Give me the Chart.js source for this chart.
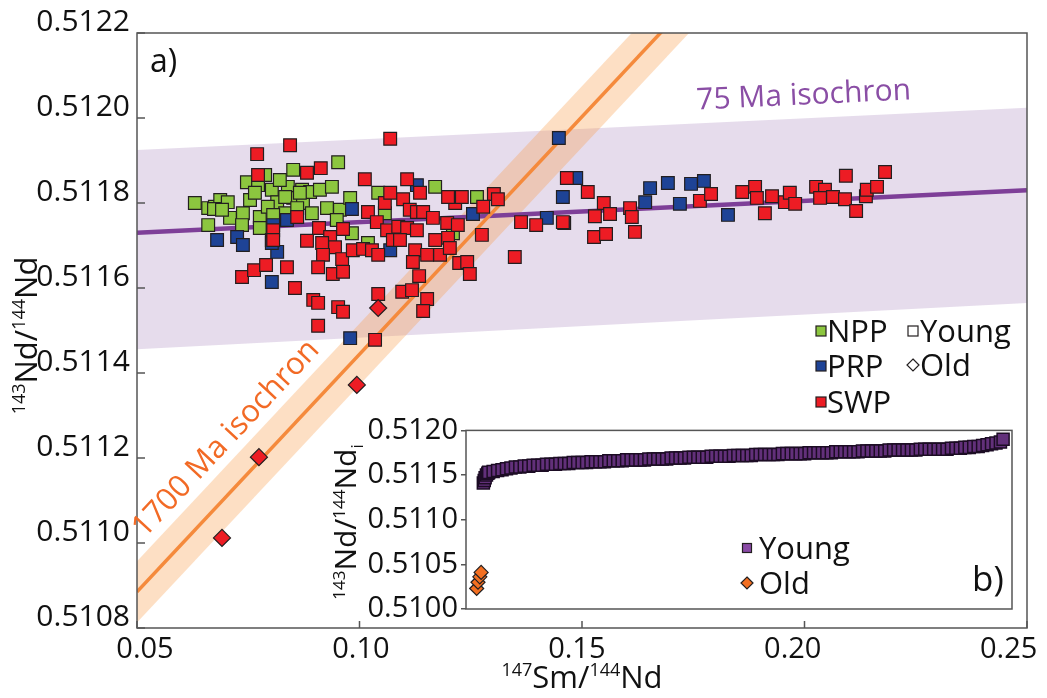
<!DOCTYPE html>
<html>
<head>
<meta charset="utf-8">
<script src="https://cdn.jsdelivr.net/npm/chart.js@4.4.0/dist/chart.umd.min.js"></script>
<style>
  body { margin: 0; background: #fff; }
  #wrap { position: relative; width: 1047px; height: 698px; }
  #mainChart { position: absolute; left: 0; top: 0; }
  #insetChart { position: absolute; left: 330px; top: 410px; }
</style>
</head>
<body>
<div id="wrap">
  <canvas id="mainChart" width="1047" height="698"></canvas>
  <canvas id="insetChart" width="700" height="230"></canvas>
</div>
<script>
// ---- axis ticks ----
const xTicks = [0.05, 0.10, 0.15, 0.20, 0.25];
const yTicks = [0.5108, 0.5110, 0.5112, 0.5114, 0.5116, 0.5118, 0.5120, 0.5122];
const insetYTicks = [0.5100, 0.5105, 0.5110, 0.5115, 0.5120];

// ---- isochrons and their error envelopes, [147Sm/144Nd, 143Nd/144Nd] ----
const isochron75 = [[0.05, 0.51173], [0.25, 0.51183]];
const band75Upper = [[0.05, 0.511925], [0.25, 0.512024]];
const band75Lower = [[0.05, 0.511456], [0.25, 0.511565]];
const isochron1700 = [[0.05, 0.510885], [0.25, 0.513121]];
const band1700Upper = [[0.05, 0.510957], [0.25, 0.513193]];
const band1700Lower = [[0.05, 0.510813], [0.25, 0.513049]];

// ---- samples ----
const nppPoints = [
  [0.0630, 0.511800], [0.0660, 0.511788], [0.0675, 0.511791], [0.0687, 0.511807],
  [0.0660, 0.511748], [0.0709, 0.511765], [0.0738, 0.511776], [0.0736, 0.511748],
  [0.0747, 0.511849], [0.0754, 0.511807], [0.0772, 0.511842], [0.0788, 0.511866],
  [0.0776, 0.511767], [0.0803, 0.511831], [0.0815, 0.511802], [0.0839, 0.511838],
  [0.0851, 0.511878], [0.0851, 0.511812], [0.0873, 0.511800], [0.0871, 0.511831],
  [0.0889, 0.511826], [0.0911, 0.511831], [0.0938, 0.511838], [0.0952, 0.511896],
  [0.0927, 0.511788], [0.0956, 0.511784], [0.0949, 0.511760], [0.0893, 0.511776],
  [0.0833, 0.511776], [0.0794, 0.511791], [0.0833, 0.511814], [0.0704, 0.511802],
  [0.0673, 0.511786], [0.0776, 0.511741], [0.0866, 0.511824], [0.0860, 0.511788],
  [0.0979, 0.511812], [0.0983, 0.511729], [0.1019, 0.511706], [0.1042, 0.511824],
  [0.1057, 0.511776], [0.1170, 0.511838], [0.1264, 0.511814], [0.1210, 0.511729],
  [0.0806, 0.511772], [0.0691, 0.511784], [0.0765, 0.511824], [0.0821, 0.511854]
];
const prpPoints = [
  [0.0680, 0.511713], [0.0725, 0.511720], [0.0738, 0.511701], [0.0803, 0.511713],
  [0.0815, 0.511685], [0.0837, 0.511760], [0.0806, 0.511748], [0.0803, 0.511614],
  [0.0983, 0.511786], [0.1129, 0.511842], [0.1069, 0.511689], [0.1255, 0.511774],
  [0.0979, 0.511482], [0.1448, 0.511953], [0.1487, 0.511859], [0.1457, 0.511814],
  [0.1421, 0.511765], [0.1460, 0.511753], [0.1653, 0.511835], [0.1642, 0.511802],
  [0.1693, 0.511847], [0.1720, 0.511798], [0.1745, 0.511845], [0.1774, 0.511852],
  [0.1828, 0.511772], [0.0803, 0.511706]
];
const swpPoints = [
  [0.0770, 0.511915], [0.0844, 0.511936], [0.0772, 0.511866], [0.0882, 0.511871],
  [0.0913, 0.511882], [0.0860, 0.511767], [0.0806, 0.511736], [0.0806, 0.511713],
  [0.0736, 0.511626], [0.0763, 0.511642], [0.0790, 0.511654], [0.0837, 0.511649],
  [0.0855, 0.511600], [0.0882, 0.511711], [0.0909, 0.511741], [0.0934, 0.511720],
  [0.0963, 0.511739], [0.0916, 0.511706], [0.0945, 0.511696], [0.0918, 0.511678],
  [0.0907, 0.511649], [0.0940, 0.511633], [0.0963, 0.511638], [0.0896, 0.511572],
  [0.0907, 0.511565], [0.0952, 0.511555], [0.0963, 0.511544], [0.0907, 0.511511],
  [0.0961, 0.511668], [0.0985, 0.511689], [0.1008, 0.511692], [0.1028, 0.511689],
  [0.1042, 0.511678], [0.1012, 0.511856], [0.1019, 0.511779], [0.1057, 0.511800],
  [0.1069, 0.511824], [0.1107, 0.511856], [0.1098, 0.511809], [0.1136, 0.511824],
  [0.1039, 0.511755], [0.1062, 0.511736], [0.1087, 0.511744], [0.1107, 0.511741],
  [0.1129, 0.511736], [0.1075, 0.511713], [0.1091, 0.511713], [0.1113, 0.511784],
  [0.1129, 0.511779], [0.1143, 0.511779], [0.1165, 0.511765], [0.1197, 0.511753],
  [0.1215, 0.511800], [0.1199, 0.511814], [0.1170, 0.511713], [0.1199, 0.511718],
  [0.1221, 0.511748], [0.1125, 0.511689], [0.1152, 0.511678], [0.1181, 0.511678],
  [0.1120, 0.511661], [0.1203, 0.511694], [0.1224, 0.511659], [0.1242, 0.511661],
  [0.1134, 0.511628], [0.1248, 0.511633], [0.1042, 0.511586], [0.1096, 0.511591],
  [0.1118, 0.511595], [0.1152, 0.511574], [0.1143, 0.511546], [0.1035, 0.511478],
  [0.1275, 0.511725], [0.1302, 0.511821], [0.1311, 0.511809], [0.1278, 0.511791],
  [0.1230, 0.511814], [0.1363, 0.511755], [0.1397, 0.511748], [0.1349, 0.511673],
  [0.1466, 0.511859], [0.1513, 0.511826], [0.1549, 0.511800], [0.1529, 0.511769],
  [0.1563, 0.511774], [0.1457, 0.511755], [0.1527, 0.511720], [0.1554, 0.511727],
  [0.1608, 0.511788], [0.1612, 0.511767], [0.1619, 0.511732], [0.1765, 0.511805],
  [0.1790, 0.511821], [0.1860, 0.511826], [0.1889, 0.511838], [0.1893, 0.511812],
  [0.1911, 0.511776], [0.1927, 0.511816], [0.1956, 0.511802], [0.1967, 0.511824],
  [0.1979, 0.511798], [0.2026, 0.511838], [0.2046, 0.511831], [0.2035, 0.511812],
  [0.2064, 0.511814], [0.2091, 0.511809], [0.2093, 0.511864], [0.2116, 0.511781],
  [0.2138, 0.511816], [0.2140, 0.511831], [0.2163, 0.511838], [0.2181, 0.511873],
  [0.1069, 0.511951]
];
const swpOldPoints = [
  [0.0691, 0.511012], [0.0774, 0.511202], [0.0994, 0.511372], [0.1042, 0.511553]
];

// ---- inset b): initial ratios ----
const youngX = [
  0.1278, 0.1280, 0.1282, 0.1285, 0.1288,
  0.129, 0.130, 0.131, 0.132, 0.133, 0.134, 0.135, 0.136, 0.137, 0.138,
  0.139, 0.140, 0.141, 0.142, 0.143, 0.144, 0.145, 0.146, 0.147, 0.148,
  0.149, 0.150, 0.151, 0.152, 0.153, 0.154, 0.155, 0.156, 0.157, 0.158,
  0.159, 0.160, 0.161, 0.162, 0.163, 0.164, 0.165, 0.166, 0.167, 0.168,
  0.169, 0.170, 0.171, 0.172, 0.173, 0.174, 0.175, 0.176, 0.177, 0.178,
  0.179, 0.180, 0.181, 0.182, 0.183, 0.184, 0.185, 0.186, 0.187, 0.188,
  0.189, 0.190, 0.191, 0.192, 0.193, 0.194, 0.195, 0.196, 0.197, 0.198,
  0.199, 0.200, 0.201, 0.202, 0.203, 0.204, 0.205, 0.206, 0.207, 0.208,
  0.209, 0.210, 0.211, 0.212, 0.213, 0.214, 0.215, 0.216, 0.217, 0.218,
  0.219, 0.220, 0.221, 0.222, 0.223, 0.224, 0.225, 0.226, 0.227, 0.228,
  0.229, 0.230, 0.231, 0.232, 0.233, 0.234, 0.235, 0.236, 0.237, 0.238,
  0.239, 0.240, 0.241, 0.242, 0.243, 0.244, 0.2446
];
const youngY = [
  0.51141, 0.51144, 0.51147, 0.51150, 0.51152,
  0.51153, 0.51154, 0.51155, 0.51156, 0.51157, 0.51158, 0.51159, 0.51159, 0.51160, 0.51160,
  0.51161, 0.51161, 0.51161, 0.51162, 0.51162, 0.51162, 0.51163, 0.51163, 0.51163, 0.51164,
  0.51164, 0.51164, 0.51164, 0.51165, 0.51165, 0.51165, 0.51165, 0.51166, 0.51166, 0.51166,
  0.51166, 0.51167, 0.51167, 0.51167, 0.51167, 0.51167, 0.51168, 0.51168, 0.51168, 0.51168,
  0.51168, 0.51169, 0.51169, 0.51169, 0.51169, 0.51170, 0.51170, 0.51170, 0.51170, 0.51170,
  0.51171, 0.51171, 0.51171, 0.51171, 0.51171, 0.51172, 0.51172, 0.51172, 0.51172, 0.51172,
  0.51173, 0.51173, 0.51173, 0.51173, 0.51173, 0.51173, 0.51174, 0.51174, 0.51174, 0.51174,
  0.51174, 0.51174, 0.51175, 0.51175, 0.51175, 0.51175, 0.51175, 0.51175, 0.51176, 0.51176,
  0.51176, 0.51176, 0.51176, 0.51176, 0.51177, 0.51177, 0.51177, 0.51177, 0.51177, 0.51177,
  0.51178, 0.51178, 0.51178, 0.51178, 0.51178, 0.51178, 0.51178, 0.51179, 0.51179, 0.51179,
  0.51179, 0.51179, 0.51179, 0.51179, 0.51180, 0.51180, 0.51180, 0.51181, 0.51181, 0.51182,
  0.51182, 0.51183, 0.51184, 0.51185, 0.51186, 0.51187, 0.51190
];
const oldInsetPoints = [
  [0.1263, 0.51023], [0.1266, 0.51030], [0.1270, 0.51036], [0.1273, 0.51041]
];

const FONT = "'Open Sans', 'DejaVu Sans', sans-serif";
const INK = '#111';
const FRAME = '#555';
const GREEN = '#8cc63f', BLUE = '#1e4396', RED = '#ed1c24', EDGE = '#231f20';
const PURPLE = '#7e3f98', ORANGE = '#f58a3c';

Chart.defaults.font.family = FONT;
Chart.defaults.color = INK;

const toXY = pts => pts.map(([x, y]) => ({ x, y }));
const fixedTicks = list => scale => { scale.ticks = list.map(v => ({ value: v })); };

// text with superscript / subscript runs, drawn left to right from (x, y)
function richWidth(ctx, parts, size) {
  let w = 0;
  parts.forEach(([t, k]) => {
    ctx.font = (k ? Math.round(size * 0.58) : size) + 'px ' + FONT;
    w += ctx.measureText(t).width;
  });
  return w;
}
function drawRich(ctx, parts, x, y, size) {
  let cx = x;
  parts.forEach(([t, k]) => {
    const s = k ? Math.round(size * 0.58) : size;
    ctx.font = s + 'px ' + FONT;
    const dy = k === 'sup' ? -size * 0.38 : k === 'sub' ? size * 0.22 : 0;
    ctx.fillText(t, cx, y + dy);
    cx += ctx.measureText(t).width;
  });
}

function drawSquare(ctx, x, y, side, fill) {
  ctx.fillStyle = fill;
  ctx.fillRect(x - side / 2, y - side / 2, side, side);
  ctx.strokeStyle = EDGE;
  ctx.lineWidth = 1.2;
  ctx.strokeRect(x - side / 2, y - side / 2, side, side);
}
function drawDiamond(ctx, x, y, r, fill) {
  ctx.beginPath();
  ctx.moveTo(x, y - r); ctx.lineTo(x + r, y); ctx.lineTo(x, y + r); ctx.lineTo(x - r, y);
  ctx.closePath();
  ctx.fillStyle = fill;
  ctx.fill();
  ctx.strokeStyle = EDGE;
  ctx.lineWidth = 1.2;
  ctx.stroke();
}

// where the isochron names sit (data units) along their lines
const label75At = [0.1758, 0.51202];
const label1700At = [0.0517, 0.51101];

const mainDecor = {
  id: 'mainDecor',
  afterDraw(chart) {
    const ctx = chart.ctx;
    const a = chart.chartArea;
    const sx = chart.scales.x, sy = chart.scales.y;
    ctx.save();

    // frame and inward tick marks
    ctx.strokeStyle = FRAME;
    ctx.lineWidth = 1.5;
    ctx.strokeRect(a.left, a.top, a.right - a.left, a.bottom - a.top);
    ctx.beginPath();
    xTicks.forEach(v => {
      const px = sx.getPixelForValue(v);
      ctx.moveTo(px, a.bottom); ctx.lineTo(px, a.bottom - 7);
    });
    yTicks.forEach(v => {
      const py = sy.getPixelForValue(v);
      ctx.moveTo(a.left, py); ctx.lineTo(a.left + 8, py);
    });
    ctx.stroke();

    // isochron names, rotated along each line
    const angleOf = pts => Math.atan2(
      sy.getPixelForValue(pts[1][1]) - sy.getPixelForValue(pts[0][1]),
      sx.getPixelForValue(pts[1][0]) - sx.getPixelForValue(pts[0][0]));
    ctx.textBaseline = 'alphabetic';
    ctx.textAlign = 'left';
    [[label75At, isochron75, '75 Ma isochron', '#8a4ea5', 30],
     [label1700At, isochron1700, '1700 Ma isochron', '#f26a25', 31]].forEach(([at, line, text, color, size]) => {
      ctx.save();
      ctx.translate(sx.getPixelForValue(at[0]), sy.getPixelForValue(at[1]));
      ctx.rotate(angleOf(line));
      ctx.font = size + 'px ' + FONT;
      ctx.fillStyle = color;
      ctx.fillText(text, 0, 0);
      ctx.restore();
    });

    // axis titles
    ctx.fillStyle = INK;
    const yTitle = [['143', 'sup'], ['Nd/', ''], ['144', 'sup'], ['Nd', '']];
    const xTitle = [['147', 'sup'], ['Sm/', ''], ['144', 'sup'], ['Nd', '']];
    ctx.save();
    ctx.translate(37, (a.top + a.bottom) / 2 + 5);
    ctx.rotate(-Math.PI / 2);
    drawRich(ctx, yTitle, -richWidth(ctx, yTitle, 31) / 2, 0, 31);
    ctx.restore();
    drawRich(ctx, xTitle, (a.left + a.right) / 2 - richWidth(ctx, xTitle, 31) / 2, 688, 31);

    // panel letter
    ctx.font = '32px ' + FONT;
    ctx.fillText('a)', a.left + 13, 72);

    // legend
    ctx.font = '31px ' + FONT;
    [['NPP', GREEN, 331], ['PRP', BLUE, 366], ['SWP', RED, 402]].forEach(([name, color, y]) => {
      drawSquare(ctx, 821, y, 10, color);
      ctx.fillStyle = INK;
      ctx.fillText(name, 827, y + 11);
    });
    drawSquare(ctx, 913, 331, 10, '#fff');
    drawDiamond(ctx, 913, 365, 6, '#fff');
    ctx.fillStyle = INK;
    ctx.fillText('Young', 920, 342);
    ctx.fillText('Old', 920, 376);

    ctx.restore();
  }
};

const lineSet = (pts, color, width, order) => ({
  type: 'line', data: toXY(pts), borderColor: color, borderWidth: width,
  pointRadius: 0, fill: false, order
});
const bandSet = (pts, fillColor, fill, order) => ({
  type: 'line', data: toXY(pts), borderColor: 'transparent', borderWidth: 0,
  pointRadius: 0, backgroundColor: fillColor, fill, order
});
const pointSet = (pts, color, style, radius, order) => ({
  data: toXY(pts), pointStyle: style, pointRadius: radius, backgroundColor: color,
  borderColor: EDGE, borderWidth: 1.2, order
});

new Chart(document.getElementById('mainChart'), {
  type: 'scatter',
  data: {
    datasets: [
      bandSet(band75Upper, 'rgba(128, 80, 160, 0.2)', '+1', 20),
      bandSet(band75Lower, 'transparent', false, 20),
      bandSet(band1700Upper, 'rgba(247, 148, 60, 0.3)', '+1', 19),
      bandSet(band1700Lower, 'transparent', false, 19),
      lineSet(isochron75, PURPLE, 4.5, 18),
      lineSet(isochron1700, ORANGE, 3.5, 17),
      pointSet(nppPoints, GREEN, 'rect', 9, 4),
      pointSet(prpPoints, BLUE, 'rect', 9, 3),
      pointSet(swpPoints, RED, 'rect', 9, 2),
      pointSet(swpOldPoints, RED, 'rectRot', 8.5, 1)
    ]
  },
  options: {
    responsive: false,
    animation: false,
    events: [],
    layout: { padding: { top: 33, right: 20, left: 0, bottom: 0 } },
    plugins: { legend: { display: false }, tooltip: { enabled: false } },
    scales: {
      x: { type: 'linear', display: false, min: 0.05, max: 0.25, afterBuildTicks: fixedTicks(xTicks) },
      // tick labels for the bottom axis sit slightly inside the tick marks
      xt: {
        type: 'linear', position: 'bottom', min: 0.04815, max: 0.25424,
        afterBuildTicks: fixedTicks(xTicks),
        grid: { display: false, drawTicks: false },
        border: { display: false },
        ticks: { font: { size: 29 }, color: INK, padding: 4, maxRotation: 0, autoSkip: false,
                 callback: v => v.toFixed(2) },
        afterFit: s => { s.height = 70; s.paddingLeft = 0; s.paddingRight = 0; }
      },
      y: {
        type: 'linear', min: 0.5108, max: 0.5122,
        afterBuildTicks: fixedTicks(yTicks),
        grid: { display: false, drawTicks: false },
        border: { display: false },
        ticks: { font: { size: 30 }, color: INK, padding: 7, labelOffset: -11,
                 callback: v => v.toFixed(4) },
        afterFit: s => { s.width = 137; }
      }
    }
  },
  plugins: [mainDecor]
});

// ---- inset ----
const insetDecor = {
  id: 'insetDecor',
  beforeDraw(chart) {
    const a = chart.chartArea;
    chart.ctx.save();
    chart.ctx.fillStyle = '#fff';
    chart.ctx.fillRect(a.left, a.top, a.right - a.left, a.bottom - a.top);
    chart.ctx.restore();
  },
  afterDraw(chart) {
    const ctx = chart.ctx;
    const a = chart.chartArea;
    ctx.save();
    ctx.strokeStyle = FRAME;
    ctx.lineWidth = 1.5;
    ctx.strokeRect(a.left, a.top, a.right - a.left, a.bottom - a.top);

    ctx.fillStyle = INK;
    ctx.textBaseline = 'alphabetic';
    const title = [['143', 'sup'], ['Nd/', ''], ['144', 'sup'], ['Nd', ''], ['i', 'sub']];
    ctx.save();
    ctx.translate(26, 112);
    ctx.rotate(-Math.PI / 2);
    drawRich(ctx, title, -richWidth(ctx, title, 30) / 2, 0, 30);
    ctx.restore();

    drawSquare(ctx, 417, 138, 9, '#8a4aa6');
    drawDiamond(ctx, 417, 173, 6, '#f36f21');
    ctx.fillStyle = INK;
    ctx.font = '31px ' + FONT;
    ctx.fillText('Young', 429, 149);
    ctx.fillText('Old', 429, 184);
    ctx.font = '35px ' + FONT;
    ctx.fillText('b)', 642, 181);
    ctx.restore();
  }
};

new Chart(document.getElementById('insetChart'), {
  type: 'scatter',
  data: {
    datasets: [
      {
        data: youngX.map((x, i) => ({ x, y: youngY[i] })),
        pointStyle: 'rect', pointRadius: 8.5, backgroundColor: '#62307a',
        borderColor: '#1c0c24', borderWidth: 1.5, order: 2
      },
      pointSet(oldInsetPoints, '#f36f21', 'rectRot', 7, 1)
    ]
  },
  options: {
    responsive: false,
    animation: false,
    events: [],
    layout: { padding: { top: 19, right: 18, bottom: 31, left: 0 } },
    plugins: { legend: { display: false }, tooltip: { enabled: false } },
    scales: {
      x: { type: 'linear', display: false, min: 0.1239, max: 0.2466 },
      y: {
        type: 'linear', min: 0.5100, max: 0.5120,
        afterBuildTicks: fixedTicks(insetYTicks),
        grid: { display: true, drawOnChartArea: false, drawTicks: true, tickLength: 5,
                color: FRAME, lineWidth: 1.5 },
        border: { display: false },
        ticks: { font: { size: 29 }, color: INK, padding: 3, callback: v => v.toFixed(4) },
        afterFit: s => { s.width = 136; }
      }
    }
  },
  plugins: [insetDecor]
});
</script>
</body>
</html>
